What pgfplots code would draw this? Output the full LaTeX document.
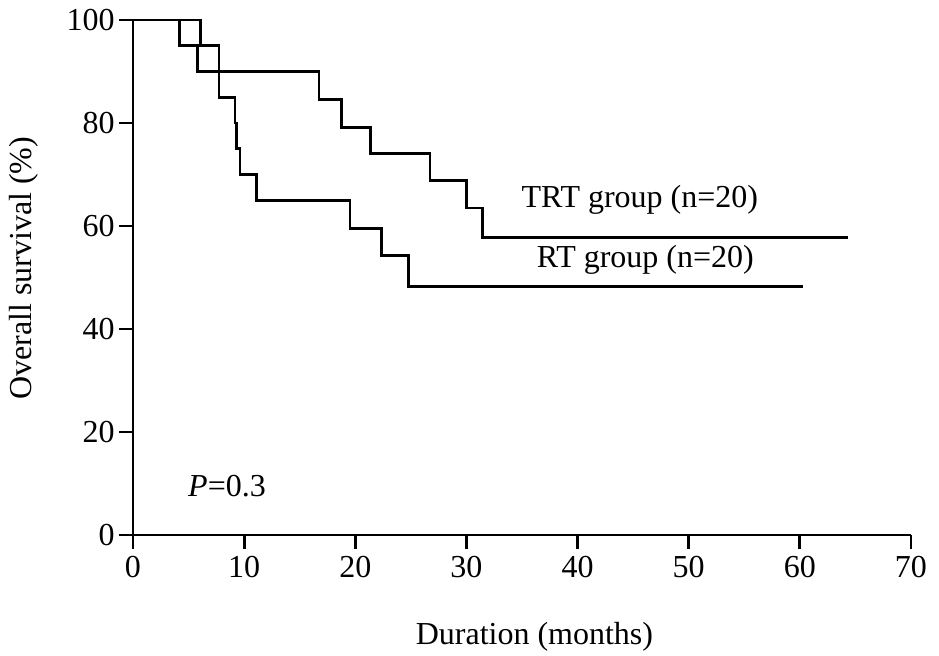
\documentclass[border=0pt]{standalone}
\usepackage{fontspec}
\setmainfont{Liberation Serif}
\usepackage{pgfplots}
\pgfplotsset{compat=1.18}

\begin{document}
\begin{tikzpicture}
\begin{axis}[
  at={(0,0)}, anchor=origin,
  scale only axis,
  width=389pt, height=257.5pt,
  xmin=0, xmax=70,
  ymin=0, ymax=100,
  axis lines*=left,
  axis line style={line width=1.3pt},
  tick align=outside,
  major tick length=7pt,
  every tick/.style={black, line width=1.4pt},
  major tick style={black, line width=1.4pt},
  xtick={0,10,...,70},
  ytick={0,20,...,100},
  font=\fontsize{16}{19}\selectfont,
  /pgf/number format/assume math mode=true,
  yticklabel style={inner sep=2pt},
  xlabel={Duration (months)},
  xlabel style={at={(axis description cs:0.516,-0.2136)}, anchor=base},
  ylabel={Overall survival (\%)},
  ylabel style={at={(axis description cs:-0.14,0.518)}, anchor=center},
  clip=false,
]
% TRT group
\addplot[const plot, line width=1.4pt, black] coordinates {
  (0,100) (4.17,95) (5.82,90) (16.74,84.5) (18.78,79.2) (21.39,74)
  (26.73,68.8) (30.04,63.5) (31.47,57.7) (64.3,57.7)
};
% RT group
\addplot[const plot, line width=1.4pt, black] coordinates {
  (0,100) (6.1,95) (7.74,85) (9.18,80) (9.33,75) (9.63,70) (11.1,65)
  (19.53,59.5) (22.38,54.3) (24.78,48.2) (60.3,48.2)
};
\node[anchor=base] at (axis cs:45.6,63.5) {TRT group (n=20)};
\node[anchor=base] at (axis cs:46.1,52.0) {RT group (n=20)};
\node[anchor=base] at (axis cs:8.46,7.4) {\textit{P}=0.3};
\end{axis}
\pgfresetboundingbox
\path[use as bounding box] (-66.5pt,-60.5pt) rectangle (403pt,267.5pt);
\end{tikzpicture}
\end{document}
